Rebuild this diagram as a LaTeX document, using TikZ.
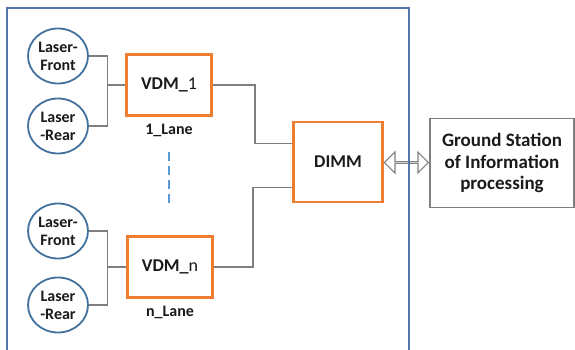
\documentclass[tikz,border=0pt]{standalone}
\usepackage{fontspec}
\setmainfont{Carlito}
\usepackage{tikz}
\usetikzlibrary{arrows.meta,positioning,calc,shapes.geometric,shapes.arrows}
\definecolor{Frame}{HTML}{5575A8}
\definecolor{Ring}{HTML}{41719C}
\definecolor{Orange}{HTML}{ED7D31}
\definecolor{Wire}{HTML}{7F7F7F}
\definecolor{Dots}{HTML}{5B9BD5}
\definecolor{Ink}{HTML}{1A1A1A}
\tikzset{
 laser/.style={ellipse, draw=Ring, line width=1.8pt, fill=white, minimum width=60pt, minimum height=55pt, inner sep=0pt, align=center, font=\bfseries\fontsize{16}{18}\selectfont, text=Ink},
 vdmbox/.style={draw=Orange, line width=2.2pt, fill=white, minimum width=85pt, minimum height=61pt, inner sep=0pt, font=\fontsize{18}{20}\selectfont, text=Ink},
 dimmbox/.style={vdmbox, minimum width=89pt, minimum height=80pt},
 gsbox/.style={draw=Wire, line width=1.4pt, minimum width=144pt, minimum height=89pt, inner sep=0pt, align=center, font=\bfseries\fontsize{19}{21.5}\selectfont, text=Ink},
 lane/.style={font=\bfseries\fontsize{16}{18}\selectfont, text=Ink, inner sep=0pt},
 wire/.style={draw=Wire, line width=1.2pt},
 link/.style={double arrow, draw=Wire, line width=1.1pt, fill=white, minimum width=21pt, minimum height=44pt, double arrow head extend=6pt, inner sep=0pt}
}
\begin{document}
\begin{tikzpicture}[x=1pt,y=-1pt,node distance=7pt]
\useasboundingbox (0,0) rectangle (575,350);
% lane 1
\node[laser] (lf1) at (58,56) {Laser-\\Front};
\node[laser] (lr1) at (58,126) {Laser\\-Rear};
\node[vdmbox] (vdm1) at (169,85) {\textbf{VDM\_}1};
\node[lane,below=of vdm1] (lane1) {1\_Lane};
% lane n
\node[laser] (lfn) at (58,231) {Laser-\\Front};
\node[laser] (lrn) at (58,305) {Laser\\-Rear};
\node[vdmbox] (vdmn) at (170,267) {\textbf{VDM\_}n};
\node[lane,below=of vdmn] (lanen) {n\_Lane};
% hub and ground
\node[dimmbox] (dimm) at (338,162) {\textbf{DIMM}};
\node[gsbox] (gs) at (502,163) {Ground Station\\of Information\\processing};
\coordinate (dtop) at (169,152);
\coordinate (dbot) at (169,204);
\draw[draw=Dots, line width=2.4pt, dash pattern=on 9pt off 5pt] (dtop) -- (dbot);
% wiring
\coordinate (bus1) at ($(lf1.east)!0.5!(vdm1.west)$);
\coordinate (busn) at ($(lfn.east)!0.5!(vdmn.west)$);
\draw[wire] (lf1.east) -| (bus1 |- vdm1.west) -- (vdm1.west);
\draw[wire] (lr1.east) -| (bus1 |- vdm1.west);
\draw[wire] (lfn.east) -| (busn |- vdmn.west) -- (vdmn.west);
\draw[wire] (lrn.east) -| (busn |- vdmn.west);
\coordinate (d1) at ($(dimm.north west)!0.275!(dimm.south west)$);
\coordinate (dn) at ($(dimm.north west)!0.81!(dimm.south west)$);
\draw[wire] (vdm1.east) -| (255,0 |- d1) -- (d1);
\draw[wire] (vdmn.east) -| (253,0 |- dn) -- (dn);
\node[link] (arr) at ($(dimm.east)!0.5!(gs.west)$) {};
% enclosure
\draw[draw=Frame, line width=1.4pt] (7,351) -- (7,8) -- (409,8) -- (409,351);
\end{tikzpicture}
\end{document}
